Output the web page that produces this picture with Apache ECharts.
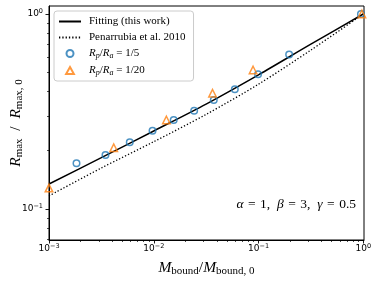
<!DOCTYPE html>
<html><head><meta charset="utf-8">
<script src="https://cdn.jsdelivr.net/npm/echarts@6/dist/echarts.min.js"></script>
<style>html,body{margin:0;padding:0;background:#fff}#c{width:374px;height:281px}</style>
</head><body><div id="c"></div>
<script>
// ---- data ----
const curveX = [0.001, 0.00316, 0.01, 0.0316, 0.1, 0.316, 1.0];
const fitY   = [0.1343, 0.1832, 0.2512, 0.3451, 0.4875, 0.6998, 1.0];
const penY   = [0.1167, 0.1622, 0.2213, 0.3055, 0.4365, 0.6531, 1.0];
const circX  = [0.00183, 0.00346, 0.0059, 0.00973, 0.0155, 0.0243, 0.0374, 0.0594, 0.099, 0.196, 0.95];
const circY  = [0.1715, 0.189, 0.220, 0.252, 0.286, 0.319, 0.362, 0.411, 0.491, 0.620, 1.0];
const triX   = [0.001, 0.00415, 0.0132, 0.0364, 0.0887, 0.97];
const triY   = [0.128, 0.206, 0.286, 0.392, 0.516, 1.0];
const xMajor = [0.001, 0.01, 0.1, 1];
const xMajorExp = ['\u22123', '\u22122', '\u22121', '0'];
const yMajor = [0.1, 1];
const yMajorExp = ['\u22121', '0'];
const names = ['Fitting (this work)', 'Penarrubia et al. 2010', 'Rp/Ra=1/5', 'Rp/Ra=1/20'];

const zip = (a, b) => a.map((v, i) => [v, b[i]]);
const BLUE = '#1f77b4', ORANGE = '#ff7f0e';
const SERIF = 'Liberation Serif';
const X0 = 0.001, X1 = 1.016, Y0 = 0.0693, Y1 = 1.099;

function expLabel(vals, exps) {
  return function (v) {
    let best = 0, d = 1e9;
    vals.forEach((t, i) => { const dd = Math.abs(Math.log10(t) - Math.log10(v)); if (dd < d) { d = dd; best = i; } });
    return '10{sup|' + exps[best] + '}';
  };
}
const tickRich = { sup: { fontSize: 6.5, fontFamily: 'DejaVu Sans', verticalAlign: 'top', padding: [0, 0, 5, 0], color: '#000' } };
const mathRich = {
  i: { fontFamily: SERIF, fontStyle: 'italic', fontSize: 15.5, color: '#000' },
  s: { fontFamily: SERIF, fontSize: 11, color: '#000', verticalAlign: 'bottom', padding: [7, 0, 0, 0] },
  n: { fontFamily: SERIF, fontSize: 15.5, color: '#000' }
};
const legRich = {
  t: { fontFamily: SERIF, fontSize: 11, color: '#000' },
  i: { fontFamily: SERIF, fontStyle: 'italic', fontSize: 11, color: '#000' },
  s: { fontFamily: SERIF, fontStyle: 'italic', fontSize: 8, color: '#000', verticalAlign: 'bottom', padding: [5, 0, 0, 0] }
};

const chart = echarts.init(document.getElementById('c'), null, { renderer: 'canvas' });
const logAxis = (extra) => Object.assign({
  type: 'log', logBase: 10, splitLine: { show: false }, minorSplitLine: { show: false },
  nameMoveOverlap: false,
  axisLine: { show: true, onZero: false, lineStyle: { color: '#000', width: 1 } },
  minorTick: { show: true, splitNumber: 9, length: 2, lineStyle: { color: '#000', width: 0.7 } }
}, extra);

chart.setOption({
  animation: false,
  grid: { left: 49, right: 10, top: 6, bottom: 41, outerBoundsMode: 'none', containLabel: false,
          show: true, borderColor: '#000', borderWidth: 1, backgroundColor: '#fff' },
  legend: {
    orient: 'vertical', left: 54, top: 11, padding: [5, 8, 4, 4], itemGap: 5,
    itemWidth: 22, itemHeight: 7,
    backgroundColor: '#fff', borderColor: '#cccccc', borderWidth: 1, borderRadius: 3,
    data: [
      { name: names[0], itemStyle: { opacity: 0 } },
      { name: names[1], itemStyle: { opacity: 0 } },
      { name: names[2] },
      { name: names[3], icon: 'path://M5,0 L10,9 L0,9 Z' }
    ],
    formatter: function (n) {
      if (n === names[2]) return '{i|R}{s|p}{t|/}{i|R}{s|a}{t| = 1/5}';
      if (n === names[3]) return '{i|R}{s|p}{t|/}{i|R}{s|a}{t| = 1/20}';
      return '{t|' + n + '}';
    },
    textStyle: { rich: legRich, padding: [0, 0, 0, 3] }
  },
  xAxis: logAxis({
    min: X0, max: X1, position: 'bottom',
    axisTick: { show: true, customValues: xMajor, length: 3.5, lineStyle: { color: '#000', width: 0.9 } },
    axisLabel: { customValues: xMajor, formatter: expLabel(xMajor, xMajorExp), rich: tickRich, fontSize: 9, fontFamily: 'DejaVu Sans', color: '#000', margin: 3 },
    name: '{i|M}{s|bound}{n|/}{i|M}{s|bound, 0}', nameLocation: 'middle', nameGap: 19,
    nameTextStyle: { rich: mathRich }
  }),
  yAxis: logAxis({
    min: Y0, max: Y1, position: 'left',
    axisTick: { show: true, customValues: yMajor, length: 3.5, lineStyle: { color: '#000', width: 0.9 } },
    axisLabel: { customValues: yMajor, formatter: expLabel(yMajor, yMajorExp), rich: tickRich, fontSize: 9, fontFamily: 'DejaVu Sans', color: '#000', margin: 6 },
    name: '{i|R}{s|max}{n|\u2002/\u2002}{i|R}{s|max, 0}', nameLocation: 'middle', nameGap: 24, nameRotate: 90,
    nameTextStyle: { rich: mathRich }
  }),
  graphic: [{
    type: 'text', right: 18, top: 197,
    style: {
      text: '{g|\u03b1}{n|\u2004=\u20041,\u2002}{g|\u03b2}{n|\u2004=\u20043,\u2002}{g|\u03b3}{n|\u2004=\u20040.5}',
      rich: {
        g: { fontFamily: SERIF, fontStyle: 'italic', fontSize: 13.5, fill: '#000' },
        n: { fontFamily: SERIF, fontSize: 13.5, fill: '#000' }
      }
    }
  }],
  series: [
    { name: names[0], type: 'line', data: zip(curveX, fitY), showSymbol: false, symbol: 'none', smooth: 0.3,
      color: '#000', lineStyle: { color: '#000', width: 1.5 }, z: 3 },
    { name: names[1], type: 'line', data: zip(curveX, penY), showSymbol: false, symbol: 'none', smooth: 0.3,
      color: '#000', lineStyle: { color: '#000', width: 1.3, type: [1.3, 2] }, z: 3 },
    { name: names[2], type: 'scatter', data: zip(circX, circY), symbol: 'circle', symbolSize: 6.5,
      itemStyle: { color: 'rgba(255,255,255,0)', borderColor: BLUE, borderWidth: 1.5 }, z: 4 },
    { name: names[3], type: 'scatter', data: zip(triX, triY), symbol: 'triangle', symbolSize: 7.5,
      itemStyle: { color: 'rgba(255,255,255,0)', borderColor: ORANGE, borderWidth: 1.5 }, z: 4 }
  ]
});
</script>
</body></html>
